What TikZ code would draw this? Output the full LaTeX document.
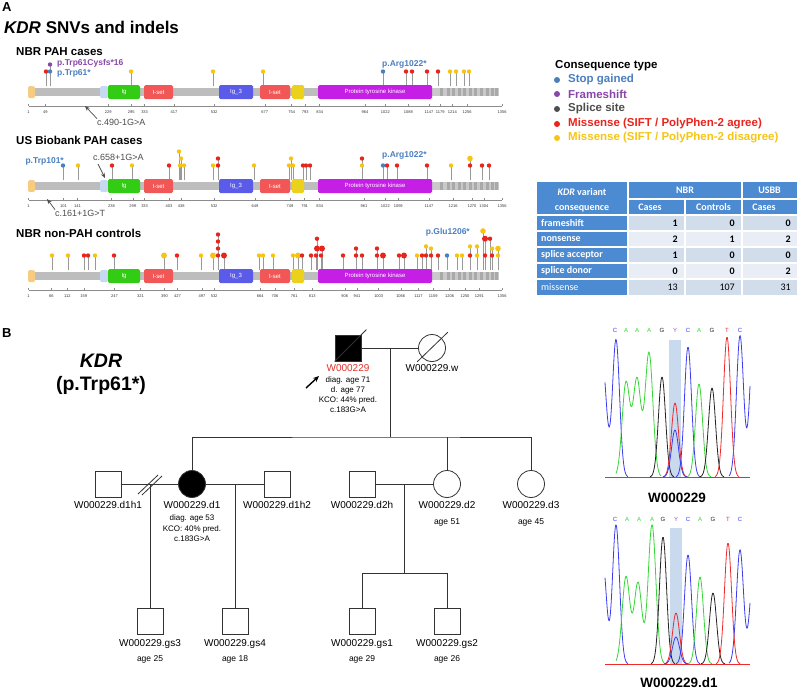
\documentclass[tikz,border=0pt]{standalone}
\usepackage{fontspec}
\setmainfont{Liberation Sans}
\newfontfamily\tabfont{Carlito}
\usetikzlibrary{arrows.meta}

\definecolor{sgc}{HTML}{4A7EBF}
\definecolor{fsc}{HTML}{8847A8}
\definecolor{ssc}{HTML}{4D4D4D}
\definecolor{mac}{HTML}{E8241D}
\definecolor{mdc}{HTML}{F6C514}
\definecolor{barc}{HTML}{BDBDBD}
\definecolor{tailc}{HTML}{C9C9C9}
\definecolor{stripec}{HTML}{A9A9A9}
\definecolor{igc}{HTML}{33CC14}
\definecolor{isetc}{HTML}{F25757}
\definecolor{igtc}{HTML}{5B5BEA}
\definecolor{ylwc}{HTML}{EBD01C}
\definecolor{kinc}{HTML}{C51FE6}
\definecolor{sigc}{HTML}{F7CB80}
\definecolor{lbc}{HTML}{C5DAF0}
\definecolor{hdrc}{HTML}{4C8BD2}
\definecolor{rowa}{HTML}{D2DDEC}
\definecolor{rowb}{HTML}{E9EEF6}
\definecolor{hlc}{HTML}{C9D9EE}
\definecolor{trC}{HTML}{3B3BEF}
\definecolor{trA}{HTML}{35D635}
\definecolor{trG}{HTML}{222222}
\definecolor{trT}{HTML}{EE2A2A}
\definecolor{trY}{HTML}{A24BC8}
\definecolor{pedc}{HTML}{333333}
\definecolor{probc}{HTML}{E0322B}

\newcommand{\fsz}[1]{\fontsize{#1}{\fpeval{1.22*#1}}\selectfont}

% protein bar with domains
\newcommand{\kdrbar}{%
  \fill[barc] (29,-4) rectangle (432,4);
  \fill[tailc] (432,-4) rectangle (499,4);
  \foreach \s in {440,447,452,458,463,469,474,480,486,491,495}
    \fill[stripec] (\s,-4) rectangle ++(2.5,8);
  \node[dom, fill=sigc, minimum width=7, minimum height=12] (sig) at (31.5,0) {};
  \node[dom, fill=lbc, minimum width=8, minimum height=12] (tm) at (104,0) {};
  \node[dom, fill=igc, minimum width=32] (ig) at (124,0) {Ig};
  \node[dom, fill=isetc, minimum width=29] (iset1) at (158.5,0) {I-set};
  \node[dom, fill=igtc, minimum width=34] (igt) at (236,0) {Ig\_3};
  \node[dom, fill=isetc, minimum width=30] (iset2) at (275,0) {I-set};
  \node[dom, fill=ylwc, minimum width=12] (ylw) at (298,0) {};
  \node[dom, fill=kinc, minimum width=114] (kin) at (375,0) {Protein tyrosine kinase};
}
% position axis
\newcommand{\kdrticks}[1]{%
  \draw[axisline] (29,14) -- (502,14);
  \foreach \p in {#1} {
    \pgfmathsetmacro\tx{28.6+(\p-1)*0.3494}
    \draw[axisline] (\tx,14) -- (\tx,12);
    \node[ticklab] (tk\p) at (\tx,20) {\p};
  }
}
% variants: x / stack level / colour / radius
\newcommand{\lollis}[1]{%
  \foreach \x/\l/\c/\r in {#1}
    \draw[stick] (\x,-6) -- (\x,{-20.5-7*\l});
  \foreach \x/\l/\c/\r in {#1}
    \fill[\c] (\x,{-20.5-7*\l}) circle[radius=\r];
}

\tikzset{
  dom/.style={rectangle, rounded corners=1.5, inner sep=0, minimum height=14, text=white, font=\fsz{6}},
  stick/.style={draw=black!40, line width=0.7},
  axisline/.style={draw=black!45, line width=0.4},
  ticklab/.style={font=\fsz{4}, text=black!80, inner sep=0},
  trk/.style={anchor=west, font=\bfseries\fsz{11.5}, inner sep=0},
  mut/.style={anchor=west, font=\bfseries\fsz{8.5}, inner sep=0},
  splice/.style={anchor=west, font=\fsz{9}, text=ssc, inner sep=0},
  splarrow/.style={-{Stealth[length=5,width=4]}, draw=ssc, line width=0.7},
  legdot/.style={circle, inner sep=0, minimum size=6},
  legtxt/.style={anchor=west, font=\bfseries\fsz{11.5}, inner sep=0},
  thd/.style={text=white, font=\tabfont\bfseries\fsz{10}, inner sep=0, align=center},
  tlab/.style={anchor=west, text=white, font=\tabfont\bfseries\fsz{10}, inner sep=0},
  tnum/.style={anchor=east, font=\tabfont\bfseries\fsz{10}, inner sep=0},
  male/.style={rectangle, draw=pedc, line width=0.8, minimum size=26, inner sep=0},
  female/.style={circle, draw=pedc, line width=0.8, minimum size=27, inner sep=0},
  aff/.style={fill=black},
  rel/.style={draw=pedc, line width=0.8},
  pid/.style={font=\fsz{10}, inner sep=0},
  pinfo/.style={font=\fsz{8}, inner sep=0, align=center},
  trace/.style={line width=0.8},
  base/.style={font=\fsz{6}, inner sep=0},
  chromlab/.style={font=\bfseries\fsz{13.5}, inner sep=0},
}

\begin{document}
\begin{tikzpicture}[x=1pt, y=-1pt,
  declare function={gp(\ga,\gb,\gw)=exp(-1*((\ga-\gb)/\gw)*((\ga-\gb)/\gw));}]
\useasboundingbox (0,0) rectangle (800,691);

% Panel A
\node[anchor=west, font=\bfseries\fsz{13}, inner sep=0] (pA) at (2,7) {A};
\node[anchor=west, font=\bfseries\fsz{17}, inner sep=0] (ttl) at (4,27) {\textit{KDR} SNVs and indels};

% NBR PAH cases
\node[trk] (trk1) at (16,52) {NBR PAH cases};
\begin{scope}[shift={(0,92)}, name prefix=nbr-]
  \lollis{46/0/mac/2.2, 50/0/sgc/2.2, 50/1/fsc/2.2, 131/0/mdc/2.2, 213/0/mdc/2.2,
    263/0/mdc/2.2, 383/0/sgc/2.2, 406/0/mac/2.2, 412/0/mac/2.2, 427/0/mac/2.2,
    438/0/mac/2.2, 450/0/mdc/2.2, 456/0/mdc/2.2, 464/0/mdc/2.2, 469/0/mdc/2.2}
  \kdrbar
  \kdrticks{1,49,229,295,333,417,532,677,754,793,834,964,1022,1088,1147,1179,1214,1256,1356}
  \node[mut, text=fsc] (fs61) at (57,-29) {p.Trp61Cysfs*16};
  \node[mut, text=sgc] (sg61) at (57,-19) {p.Trp61*};
  \node[mut, text=sgc] (sg1022) at (382,-28) {p.Arg1022*};
  \node[splice] (spl) at (97,30) {c.490-1G>A};
  \coordinate (splend) at (85,14);
  \draw[splarrow] (spl.north west) -- (splend);
\end{scope}

% US Biobank PAH cases
\node[trk] (trk2) at (16,140) {US Biobank PAH cases};
\begin{scope}[shift={(0,186)}, name prefix=usbb-]
  \lollis{63/0/sgc/2.2, 78/0/mdc/2.2, 112/0/mac/2.2, 132/0/mdc/2.2, 169/0/mac/2.2,
    180/0/mdc/2.2, 184/0/mdc/2.2, 181/1/mdc/2.2, 179/2/mdc/2.2, 213/0/mdc/2.2,
    218/0/mac/2.2, 218/1/mac/2.2, 254/0/mdc/2.2, 289/0/mdc/2.2, 293/0/mdc/2.2,
    291/1/mdc/2.2, 303/0/mac/2.2, 306/0/mac/2.2, 310/0/mac/2.2, 362/0/mdc/2.2,
    362/1/mac/2.2, 383/0/sgc/2.2, 387/0/mac/2.2, 397/0/mac/2.2, 427/0/mac/2.2,
    451/0/mdc/2.2, 470/0/mac/2.2, 470/1/mdc/2.8, 482/0/mac/2.2, 489/0/mac/2.2}
  \kdrbar
  \kdrticks{1,101,141,238,299,333,403,438,532,649,749,791,834,961,1022,1059,1147,1216,1270,1304,1356}
  \node[mut, text=sgc, anchor=east] (sg101) at (64,-25) {p.Trp101*};
  \node[mut, text=sgc] (sg1022) at (382,-31) {p.Arg1022*};
  \node[splice] (spla) at (93,-29) {c.658+1G>A};
  \coordinate (splastart) at (98,-22);
  \coordinate (splaend) at (105,-8);
  \draw[splarrow] (splastart) -- (splaend);
  \node[splice] (splb) at (55,27) {c.161+1G>T};
  \coordinate (splbend) at (47,13);
  \draw[splarrow] (splb.north west) -- (splbend);
\end{scope}

% NBR non-PAH controls
\node[trk] (trk3) at (16,233) {NBR non-PAH controls};
\begin{scope}[shift={(0,276)}, name prefix=ctrl-]
  \lollis{52/0/mdc/2.2, 68/0/mdc/2.2, 84/0/mac/2.2, 88/0/mac/2.2, 95/0/mdc/2.2,
    114/0/mac/2.2, 164/0/mdc/3, 177/0/mac/2.2, 201/0/mdc/2.2, 213/0/mdc/3,
    218/0/mac/2.2, 218/1/mac/2.2, 218/2/mac/2.2, 218/3/mac/2.2, 224/0/mac/3,
    259/0/mdc/2.2, 263/0/mdc/2.2, 273/0/mdc/2.2, 293/0/mdc/2.2, 298/0/mdc/3,
    302/0/mac/2.2, 311/0/mac/2.2, 316/0/mac/2.2, 321/0/mac/2.2, 317/2.4/mac/2.2,
    317/1/mac/3, 322/1/mac/3, 343/0/mac/2.2, 356/0/mac/2.2, 356/1/mac/2.2,
    362/0/mac/2.2, 377/0/mac/2.2, 377/1/mac/2.2, 383/0/mac/3, 399/0/mac/2.2,
    404/0/mac/3, 417/0/mdc/2.2, 422/0/mac/2.2, 426/0/mac/2.2, 431/0/mac/2.2,
    426/1.3/mdc/2.2, 431/1/mdc/2.2, 438/0/mac/2.2, 447/0/sgc/2.2, 457/0/mdc/2.2,
    462/0/mdc/2.2, 470/0/mac/2.2, 470/1.3/mdc/2.2, 477/0/mdc/2.2, 477/1.3/mdc/2.2,
    485/0/mac/2.2, 492/0/mac/2.2, 492/1/mdc/2.2, 485/2.4/mac/3, 490/2.4/mac/2.2,
    483/3.5/mdc/2.8, 498/0/mdc/2.2, 498/1/mdc/2.8}
  \kdrbar
  \kdrticks{1,66,112,159,247,321,390,427,497,532,664,706,761,813,906,941,1003,1066,1117,1159,1206,1250,1291,1356}
  \node[mut, text=sgc, anchor=east] (sg1206) at (470,-44) {p.Glu1206*};
\end{scope}

% Legend
\node[legtxt] (legt) at (555,66) {Consequence type};
\foreach \yy/\col/\txt [count=\i] in {80/sgc/{Stop gained}, 94/fsc/{Frameshift}, 109/ssc/{Splice site},
    124/mac/{Missense (SIFT / PolyPhen-2 agree)}, 138/mdc/{Missense (SIFT / PolyPhen-2 disagree)}} {
  \node[legdot, fill=\col] (ld\i) at (557,\yy) {};
  \node[legtxt, text=\col] (lt\i) at (568,\yy) {\txt};
}

% Table
\fill[hdrc] (537,182) rectangle (797,215);
\fill[hdrc] (537,215) rectangle (628,295);
\foreach \r/\col in {0/rowa,1/rowb,2/rowa,3/rowb,4/rowa}
  \fill[\col] (628,{215+16*\r}) rectangle (797,{231+16*\r});
\draw[white, line width=1.2] (628,199) -- (797,199);
\foreach \yy in {215,231,247,263,279}
  \draw[white, line width=1.2] (537,\yy) -- (797,\yy);
\draw[white, line width=1.2] (628,182) -- (628,295);
\draw[white, line width=1.2] (685,199) -- (685,295);
\draw[white, line width=1.2] (742,182) -- (742,295);
\node[thd] (hvar) at (582,200) {\textit{KDR} variant\\[2.5pt]consequence};
\node[thd] (hnbr) at (685,190.5) {NBR};
\node[thd] (husbb) at (769.5,190.5) {USBB};
\node[thd] (hcas1) at (650,207) {Cases};
\node[thd] (hctl) at (713.5,207) {Controls};
\node[thd] (hcas2) at (764,207) {Cases};
\foreach \lab/\na/\nb/\nc [count=\i] in {frameshift/1/0/0, nonsense/2/1/2,
    splice acceptor/1/0/0, splice donor/0/0/2} {
  \node[tlab] (rl\i) at (541,{207+16*\i}) {\lab};
  \node[tnum] (ra\i) at (678,{207+16*\i}) {\na};
  \node[tnum] (rb\i) at (735,{207+16*\i}) {\nb};
  \node[tnum] (rc\i) at (791,{207+16*\i}) {\nc};
}
\node[tlab, font=\tabfont\fsz{10}] (rl5) at (541,287) {missense};
\node[tnum, font=\tabfont\fsz{10}] (ra5) at (678,287) {13};
\node[tnum, font=\tabfont\fsz{10}] (rb5) at (735,287) {107};
\node[tnum, font=\tabfont\fsz{10}] (rc5) at (791,287) {31};

% Panel B
\node[anchor=west, font=\bfseries\fsz{13}, inner sep=0] (pB) at (2,333) {B};
\node[font=\bfseries\itshape\fsz{19.5}, inner sep=0] (gene) at (101,361) {KDR};
\node[font=\bfseries\fsz{19.5}, inner sep=0] (chg) at (101,385) {(p.Trp61*)};

% pedigree: first generation
\node[male, aff] (p1) at (348,348) {};
\node[female] (w) at (432,348) {};
\draw[rel] (p1.south west) -- ([shift={(5,-5)}]p1.north east);
\draw[rel] ([shift={(-5,4)}]w.south west) -- ([shift={(6,-6)}]w.north east);
\draw[rel] (p1.east) -- (w.west);
\node[pid, text=probc] (p1id) at (348,368) {W000229};
\node[pinfo] (p1info) at (348,394.5) {diag. age 71\\d. age 77\\KCO: 44\% pred.\\c.183G>A};
\node[pid] (wid) at (432,368) {W000229.w};
\coordinate (pra) at (306,388);
\coordinate (prb) at (319,376);
\draw[-{Stealth[length=6,width=5]}, line width=1.4] (pra) -- (prb);

% second generation
\coordinate (m1) at (390,348);
\coordinate (s1) at (390,437);
\node[female, aff] (d1) at (192,484) {};
\node[female] (d2) at (447,484) {};
\node[female] (d3) at (531,484) {};
\node[male] (d1h1) at (108,484) {};
\node[male] (d1h2) at (277,484) {};
\node[male] (d2h) at (362,484) {};
\draw[rel] (m1) -- (s1);
\draw[rel] (d1.north) |- (s1) -| (d3.north);
\draw[rel] (d2.north) -- (d2.north |- s1);
\draw[rel] (d1h1.east) -- (d1.west);
\draw[rel] (d1.east) -- (d1h2.west);
\draw[rel] (d2h.east) -- (d2.west);
\draw[rel] (138,494) -- (158,475);
\draw[rel] (142,495) -- (162,476);
\foreach \n/\txt in {d1h1/W000229.d1h1, d1/W000229.d1, d1h2/W000229.d1h2,
    d2h/W000229.d2h, d2/W000229.d2, d3/W000229.d3}
  \node[pid] (\n id) at (\n |- 0,505) {\txt};
\node[pinfo] (d1info) at (192,528.5) {diag. age 53\\[0.8pt]KCO: 40\% pred.\\[0.8pt]c.183G>A};
\node[pinfo, font=\fsz{8.5}] (d2age) at (447,522) {age 51};
\node[pinfo, font=\fsz{8.5}] (d3age) at (531,522) {age 45};

% third generation
\coordinate (m2) at (150,484);
\coordinate (m3) at (235,484);
\coordinate (m4) at (404,484);
\coordinate (s4) at (404,573);
\node[male] (gs3) at (150,621) {};
\node[male] (gs4) at (235,621) {};
\node[male] (gs1) at (362,621) {};
\node[male] (gs2) at (447,621) {};
\draw[rel] (m2) -- (gs3.north);
\draw[rel] (m3) -- (gs4.north);
\draw[rel] (m4) -- (s4);
\draw[rel] (gs1.north) |- (s4) -| (gs2.north);
\foreach \n/\a in {gs3/25, gs4/18, gs1/29, gs2/26} {
  \node[pid] (\n id) at (\n |- 0,644) {W000229.\n};
  \node[pinfo, font=\fsz{8.5}] (\n age) at (\n |- 0,659) {age \a};
}

% chromatograms
\fill[hlc] (669,340) rectangle (681,477);
\fill[hlc] (670,528) rectangle (682,664);
\foreach \bx/\b/\col [count=\i] in {615/C/trC, 626/A/trA, 637/A/trA, 649/A/trA, 662/G/trG,
    675/Y/trY, 688/C/trC, 699/A/trA, 712/G/trG, 727/T/trT, 740/C/trC}
  \node[base, text=\col] (ta\i) at (\bx,330) {\b};
\foreach \bx/\b/\col [count=\i] in {615/C/trC, 627/A/trA, 639/A/trA, 652/A/trA, 663/G/trG,
    676/Y/trY, 688/C/trC, 700/A/trA, 713/G/trG, 728/T/trT, 740/C/trC}
  \node[base, text=\col] (tb\i) at (\bx,519) {\b};
\draw[trT, line width=0.5] (605,477) -- (750,477);
\draw[trT, line width=0.5] (605,664) -- (750,664);
% W000229
\draw[trace, trC] plot[domain=605:628, samples=50, smooth] (\x,{477-120*gp(\x,602,6)-137*gp(\x,616,5)});
\draw[trace, trA] plot[domain=616:661, samples=90, smooth] (\x,{477-94*gp(\x,626,5.5)-97*gp(\x,637,5.5)-124*gp(\x,649,5.5)});
\draw[trace, trC] plot[domain=729:750, samples=50, smooth] (\x,{477-141*gp(\x,740,5)-150*gp(\x,754,5.5)});
\foreach \cc/\hh/\col in {662/100/trG, 675/74/trT, 675/47/trC, 688/130/trC, 699/93/trA, 712/89/trG, 727/140/trT} {
  \pgfmathsetmacro\lo{\cc-12}
  \pgfmathsetmacro\hi{\cc+12}
  \draw[trace, \col] plot[domain=\lo:\hi, samples=40, smooth] (\x,{477-\hh*gp(\x,\cc,5)});
}
% W000229.d1
\draw[trace, trC] plot[domain=605:628, samples=50, smooth] (\x,{664-100*gp(\x,603,5)-139*gp(\x,616,5)});
\draw[trace, trA] plot[domain=616:664, samples=90, smooth] (\x,{664-87*gp(\x,626,5.5)-81*gp(\x,638,5.5)-139*gp(\x,652,5.5)});
\draw[trace, trC] plot[domain=729:750, samples=50, smooth] (\x,{664-114*gp(\x,740,5)-100*gp(\x,754,5.5)});
\foreach \cc/\hh/\col in {663/127/trG, 676/51/trT, 676/27/trC, 688/109/trC, 700/87/trA, 713/71/trG, 728/121/trT} {
  \pgfmathsetmacro\lo{\cc-12}
  \pgfmathsetmacro\hi{\cc+12}
  \draw[trace, \col] plot[domain=\lo:\hi, samples=40, smooth] (\x,{664-\hh*gp(\x,\cc,5)});
}
\node[chromlab] (c1lab) at (677,498) {W000229};
\node[chromlab] (c2lab) at (679,683) {W000229.d1};
\end{tikzpicture}
\end{document}
